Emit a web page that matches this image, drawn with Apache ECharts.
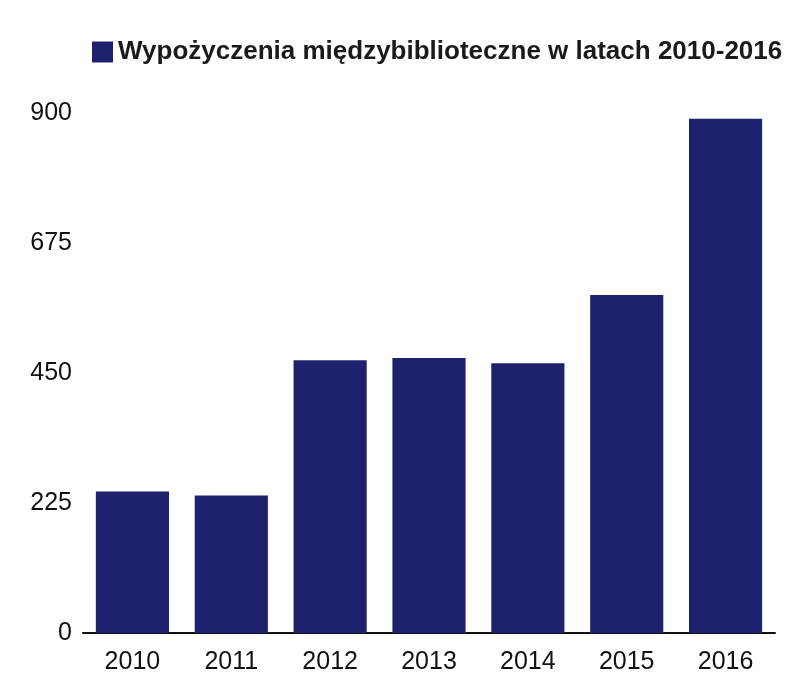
<!DOCTYPE html>
<html>
<head>
<meta charset="utf-8">
<script src="https://cdn.jsdelivr.net/npm/echarts@6/dist/echarts.min.js"></script>
<style>
  html, body { margin: 0; padding: 0; background: #fff; }
  #chart { width: 810px; height: 694px; }
</style>
</head>
<body>
<div id="chart"></div>
<script>
const years = ['2010', '2011', '2012', '2013', '2014', '2015', '2016'];
const loans = [245, 238, 472, 476, 467, 585, 890];
const seriesName = 'Wypożyczenia międzybiblioteczne w latach 2010-2016';

let chart = echarts.init(document.getElementById('chart'));

let option = {
    backgroundColor: '#ffffff',
    textStyle: {
        fontFamily: 'Liberation Sans, Arial, sans-serif'
    },
    legend: {
        data: [seriesName],
        left: 87,
        top: 34,
        itemWidth: 21,
        itemHeight: 21,
        itemGap: 14,
        icon: 'rect',
        textStyle: {
            fontSize: 26,
            fontWeight: 'bold',
            color: '#1a1a1a'
        }
    },
    grid: {
        left: 83,
        right: 35,
        top: 113,
        bottom: 61,
        containLabel: false
    },
    xAxis: {
        type: 'category',
        data: years,
        axisLine: { lineStyle: { color: '#111', width: 2 } },
        axisTick: { show: false },
        axisLabel: {
            fontSize: 25,
            color: '#111',
            margin: 17
        }
    },
    yAxis: {
        type: 'value',
        min: 0,
        max: 900,
        interval: 225,
        axisLine: { show: false },
        axisTick: { show: false },
        splitLine: { show: false },
        axisLabel: {
            fontSize: 25,
            color: '#111',
            margin: 11
        }
    },
    series: [{
        name: seriesName,
        type: 'bar',
        data: loans,
        barCategoryGap: '26%',
        itemStyle: { color: '#1e216e' }
    }]
};

chart.setOption(option);
</script>
</body>
</html>
